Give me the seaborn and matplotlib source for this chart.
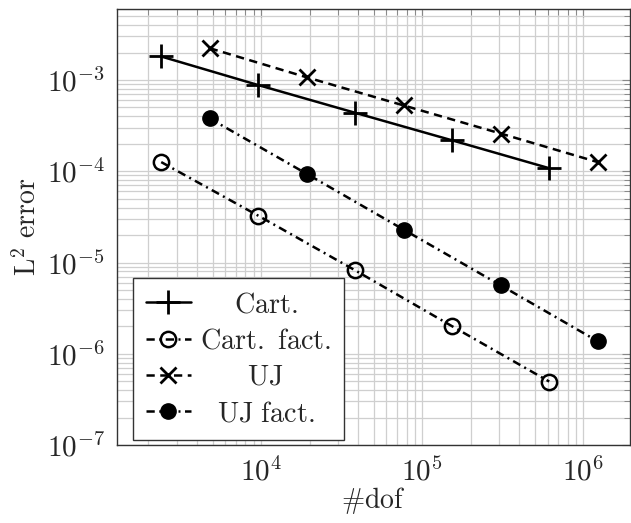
import numpy as np
import pandas as pd
import matplotlib
matplotlib.use('Agg')
import matplotlib.pyplot as plt
import seaborn as sns
from matplotlib.ticker import LogLocator, FuncFormatter, NullFormatter

# data (log-log convergence)
dof_cart = [2400, 9600, 38400, 153600, 614400]
dof_uj = [4800, 19200, 76800, 307200, 1228800]
err_cart = [1.81e-3, 8.8e-4, 4.37e-4, 2.18e-4, 1.08e-4]
err_cart_fact = [1.26e-4, 3.26e-5, 8.2e-6, 2.0e-6, 4.96e-7]
err_uj = [2.23e-3, 1.07e-3, 5.26e-4, 2.59e-4, 1.26e-4]
err_uj_fact = [3.79e-4, 9.37e-5, 2.29e-5, 5.62e-6, 1.37e-6]
labels = ['Cart.', 'Cart. fact.', 'UJ', 'UJ fact.']

sns.set_style('white')
plt.rcParams['mathtext.fontset'] = 'cm'
plt.rcParams['font.family'] = ['DejaVu Serif']

fig = plt.figure(figsize=(6.31, 5.23), dpi=100)
ax = fig.add_axes([116.7 / 631, 1 - 445 / 523, (630 - 116.7) / 631, (445 - 9) / 523])

dashdot = (0, (3.3, 1.8, 0.8, 1.8))
sns.lineplot(x=dof_cart, y=err_cart, ax=ax, color='black', lw=1.8, linestyle='-',
             marker='+', ms=17, mew=2, mec='black')
sns.lineplot(x=dof_cart, y=err_cart_fact, ax=ax, color='black', lw=1.8, linestyle=dashdot,
             marker='o', ms=11, mew=1.8, mfc='none', mec='black')
sns.lineplot(x=dof_uj, y=err_uj, ax=ax, color='black', lw=1.8, linestyle=(0, (3.3, 2.2)),
             marker='x', ms=12, mew=2, mec='black')
sns.lineplot(x=dof_uj, y=err_uj_fact, ax=ax, color='black', lw=1.8, linestyle=dashdot,
             marker='o', ms=11, mew=1, mfc='black', mec='black')

ax.set_xscale('log')
ax.set_yscale('log')
ax.set_xlim(1.27e3, 1.95e6)
ax.set_ylim(1e-7, 6.0e-3)

for axis in (ax.xaxis, ax.yaxis):
    axis.set_major_locator(LogLocator(base=10, numticks=20))
    axis.set_minor_locator(LogLocator(base=10, subs=np.arange(2, 10), numticks=20))
    axis.set_major_formatter(FuncFormatter(lambda v, p: r'$10^{%d}$' % round(np.log10(v))))
    axis.set_minor_formatter(NullFormatter())

ax.grid(True, which='both', color='#cfcfcf', lw=0.9)
ax.set_axisbelow(True)
ax.tick_params(which='both', direction='in', top=True, right=True, color='#888888')
ax.tick_params(which='major', length=6, width=0.8)
ax.tick_params(which='minor', length=4, width=0.7)
ax.tick_params(axis='x', which='major', labelsize=21, pad=9)
ax.tick_params(axis='y', which='major', labelsize=21, pad=8.5)
for s in ax.spines.values():
    s.set_color('#333333')
    s.set_linewidth(1.0)

ax.set_xlabel(r'$\#\mathrm{dof}$', fontsize=20, labelpad=-1)
ax.set_ylabel(r'$\mathrm{L}^2\ \mathrm{error}$', fontsize=20, labelpad=3.5)

handles = ax.get_lines()[:4]
leg = ax.legend(handles=handles,
                labels=[r'$\mathrm{Cart.}$', r'$\mathrm{Cart.\ fact.}$', r'$\mathrm{UJ}$', r'$\mathrm{UJ\ fact.}$'],
                loc='upper left', bbox_to_anchor=(0.032, 0.382), borderaxespad=0,
                fontsize=20.3, fancybox=False, framealpha=1, edgecolor='#333333',
                handlelength=1.6, handletextpad=0.32, labelspacing=0.33, borderpad=0.45)
leg.get_frame().set_linewidth(1.0)

# centre the legend texts like the reference
fig.canvas.draw()
r = fig.canvas.get_renderer()
texts = leg.get_texts()
widths = [t.get_window_extent(r).width for t in texts]
wmax = max(widths)
for t, w in zip(texts, widths):
    t.set_position(((wmax - w) / 2, 0))

fig.savefig('out.png', dpi=100)
